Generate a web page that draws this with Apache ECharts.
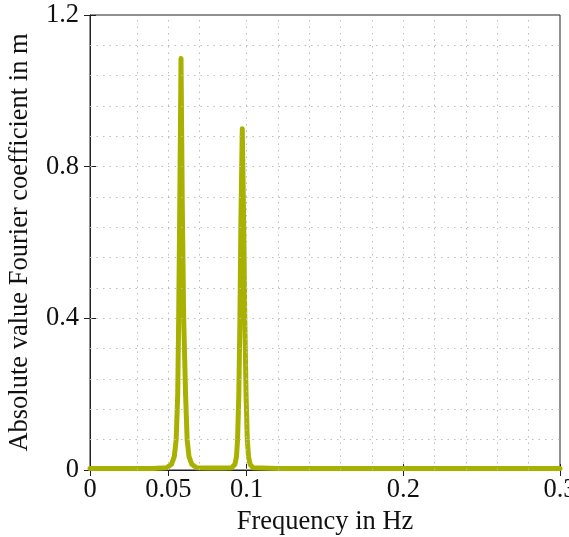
<!DOCTYPE html>
<html>
<head>
<meta charset="utf-8">
<script src="https://cdn.jsdelivr.net/npm/echarts@6/dist/echarts.min.js"></script>
<style>
html, body { margin: 0; padding: 0; background: #fff; }
#char { width: 569px; height: 537px; }
</style>
</head>
<body>
<div id="char"></div>
<script>
// spectrum: |Fourier coefficient| vs frequency
const freq = [0, 0.02, 0.04, 0.049, 0.052, 0.0538, 0.055, 0.056, 0.0566, 0.0573, 0.0581, 0.0589, 0.0598, 0.061, 0.062, 0.0632, 0.065, 0.068, 0.075,
    0.085, 0.0905, 0.0925, 0.0935, 0.0942, 0.095, 0.0957, 0.0963, 0.0972, 0.0981, 0.0988, 0.0996, 0.1004, 0.1012, 0.1022, 0.104, 0.12, 0.16, 0.2, 0.25, 0.3];
const amp = [0.004, 0.004, 0.004, 0.006, 0.015, 0.035, 0.08, 0.2, 0.4, 0.7, 1.085, 0.7, 0.4, 0.2, 0.08, 0.035, 0.015, 0.006, 0.005,
    0.005, 0.006, 0.015, 0.035, 0.08, 0.2, 0.4, 0.65, 0.9, 0.65, 0.4, 0.2, 0.08, 0.035, 0.015, 0.006, 0.004, 0.004, 0.004, 0.004, 0.004];

const xTicks = [0, 0.05, 0.1, 0.2, 0.3];
const yTicks = [0, 0.4, 0.8, 1.2];
const xGrid = [0.025, 0.05, 0.075, 0.1, 0.12, 0.14, 0.16, 0.18, 0.2, 0.22, 0.24, 0.26, 0.28];
const yGrid = [0.08, 0.16, 0.24, 0.32, 0.4, 0.48, 0.56, 0.64, 0.72, 0.8, 0.88, 0.96, 1.04, 1.12];

const font = 'Liberation Serif, Times New Roman, serif';
const gridLine = { color: '#bdbdbd', width: 1, type: [1.5, 5] };

function getChart() {
    const charEle = document.getElementById('char');
    const charEch = echarts.init(charEle);
    const mirrorAxis = {
        min: 0, axisLine: { show: false }, axisLabel: { show: false }, splitLine: { show: false },
        axisTick: { show: true, inside: true, length: 6, lineStyle: { color: '#222' } }
    };
    const option = {
        animation: false,
        backgroundColor: '#fff',
        grid: {
            left: 90, right: 9, top: 15, bottom: 67,
            outerBoundsMode: 'none', containLabel: false,
            show: true, borderColor: '#222', borderWidth: 1
        },
        xAxis: [
            {
                type: 'value', min: 0, max: 0.3,
                name: 'Frequency in Hz', nameLocation: 'middle', nameGap: 37,
                nameTextStyle: { fontFamily: font, fontSize: 26.5, color: '#111' },
                axisLine: { show: true, lineStyle: { color: '#222' } },
                axisTick: { show: true, inside: true, length: 6, customValues: xTicks, lineStyle: { color: '#222' } },
                axisLabel: { customValues: xTicks, fontFamily: font, fontSize: 26.5, color: '#111', margin: 7 },
                splitLine: { show: false }
            },
            Object.assign({ type: 'value', position: 'top', max: 0.3 }, mirrorAxis,
                { axisTick: Object.assign({}, mirrorAxis.axisTick, { customValues: xTicks }) })
        ],
        yAxis: [
            {
                type: 'value', min: 0, max: 1.2, interval: 0.4,
                name: 'Absolute value Fourier coefficient in m', nameLocation: 'middle', nameGap: 56,
                nameTextStyle: { fontFamily: font, fontSize: 26.5, color: '#111' },
                axisLine: { show: true, lineStyle: { color: '#222' } },
                axisTick: { show: true, inside: true, length: 6, customValues: yTicks, lineStyle: { color: '#222' } },
                axisLabel: { customValues: yTicks, fontFamily: font, fontSize: 26.5, color: '#111', margin: 11 },
                splitLine: { show: false }
            },
            Object.assign({ type: 'value', position: 'right', max: 1.2, interval: 0.4 }, mirrorAxis)
        ],
        series: [
            {
                // dotted grid
                type: 'line', data: [], z: 1, silent: true,
                markLine: {
                    silent: true, symbol: 'none', label: { show: false }, animation: false,
                    lineStyle: gridLine,
                    data: xGrid.map(v => ({ xAxis: v })).concat(yGrid.map(v => ({ yAxis: v })))
                }
            },
            {
                type: 'line', z: 3,
                data: freq.map((f, i) => [f, amp[i]]),
                showSymbol: false, smooth: false,
                lineStyle: { color: '#a8b100', width: 5, cap: 'round', join: 'round' }
            }
        ]
    };
    charEch.setOption(option, true);
}
getChart();
</script>
</body>
</html>
